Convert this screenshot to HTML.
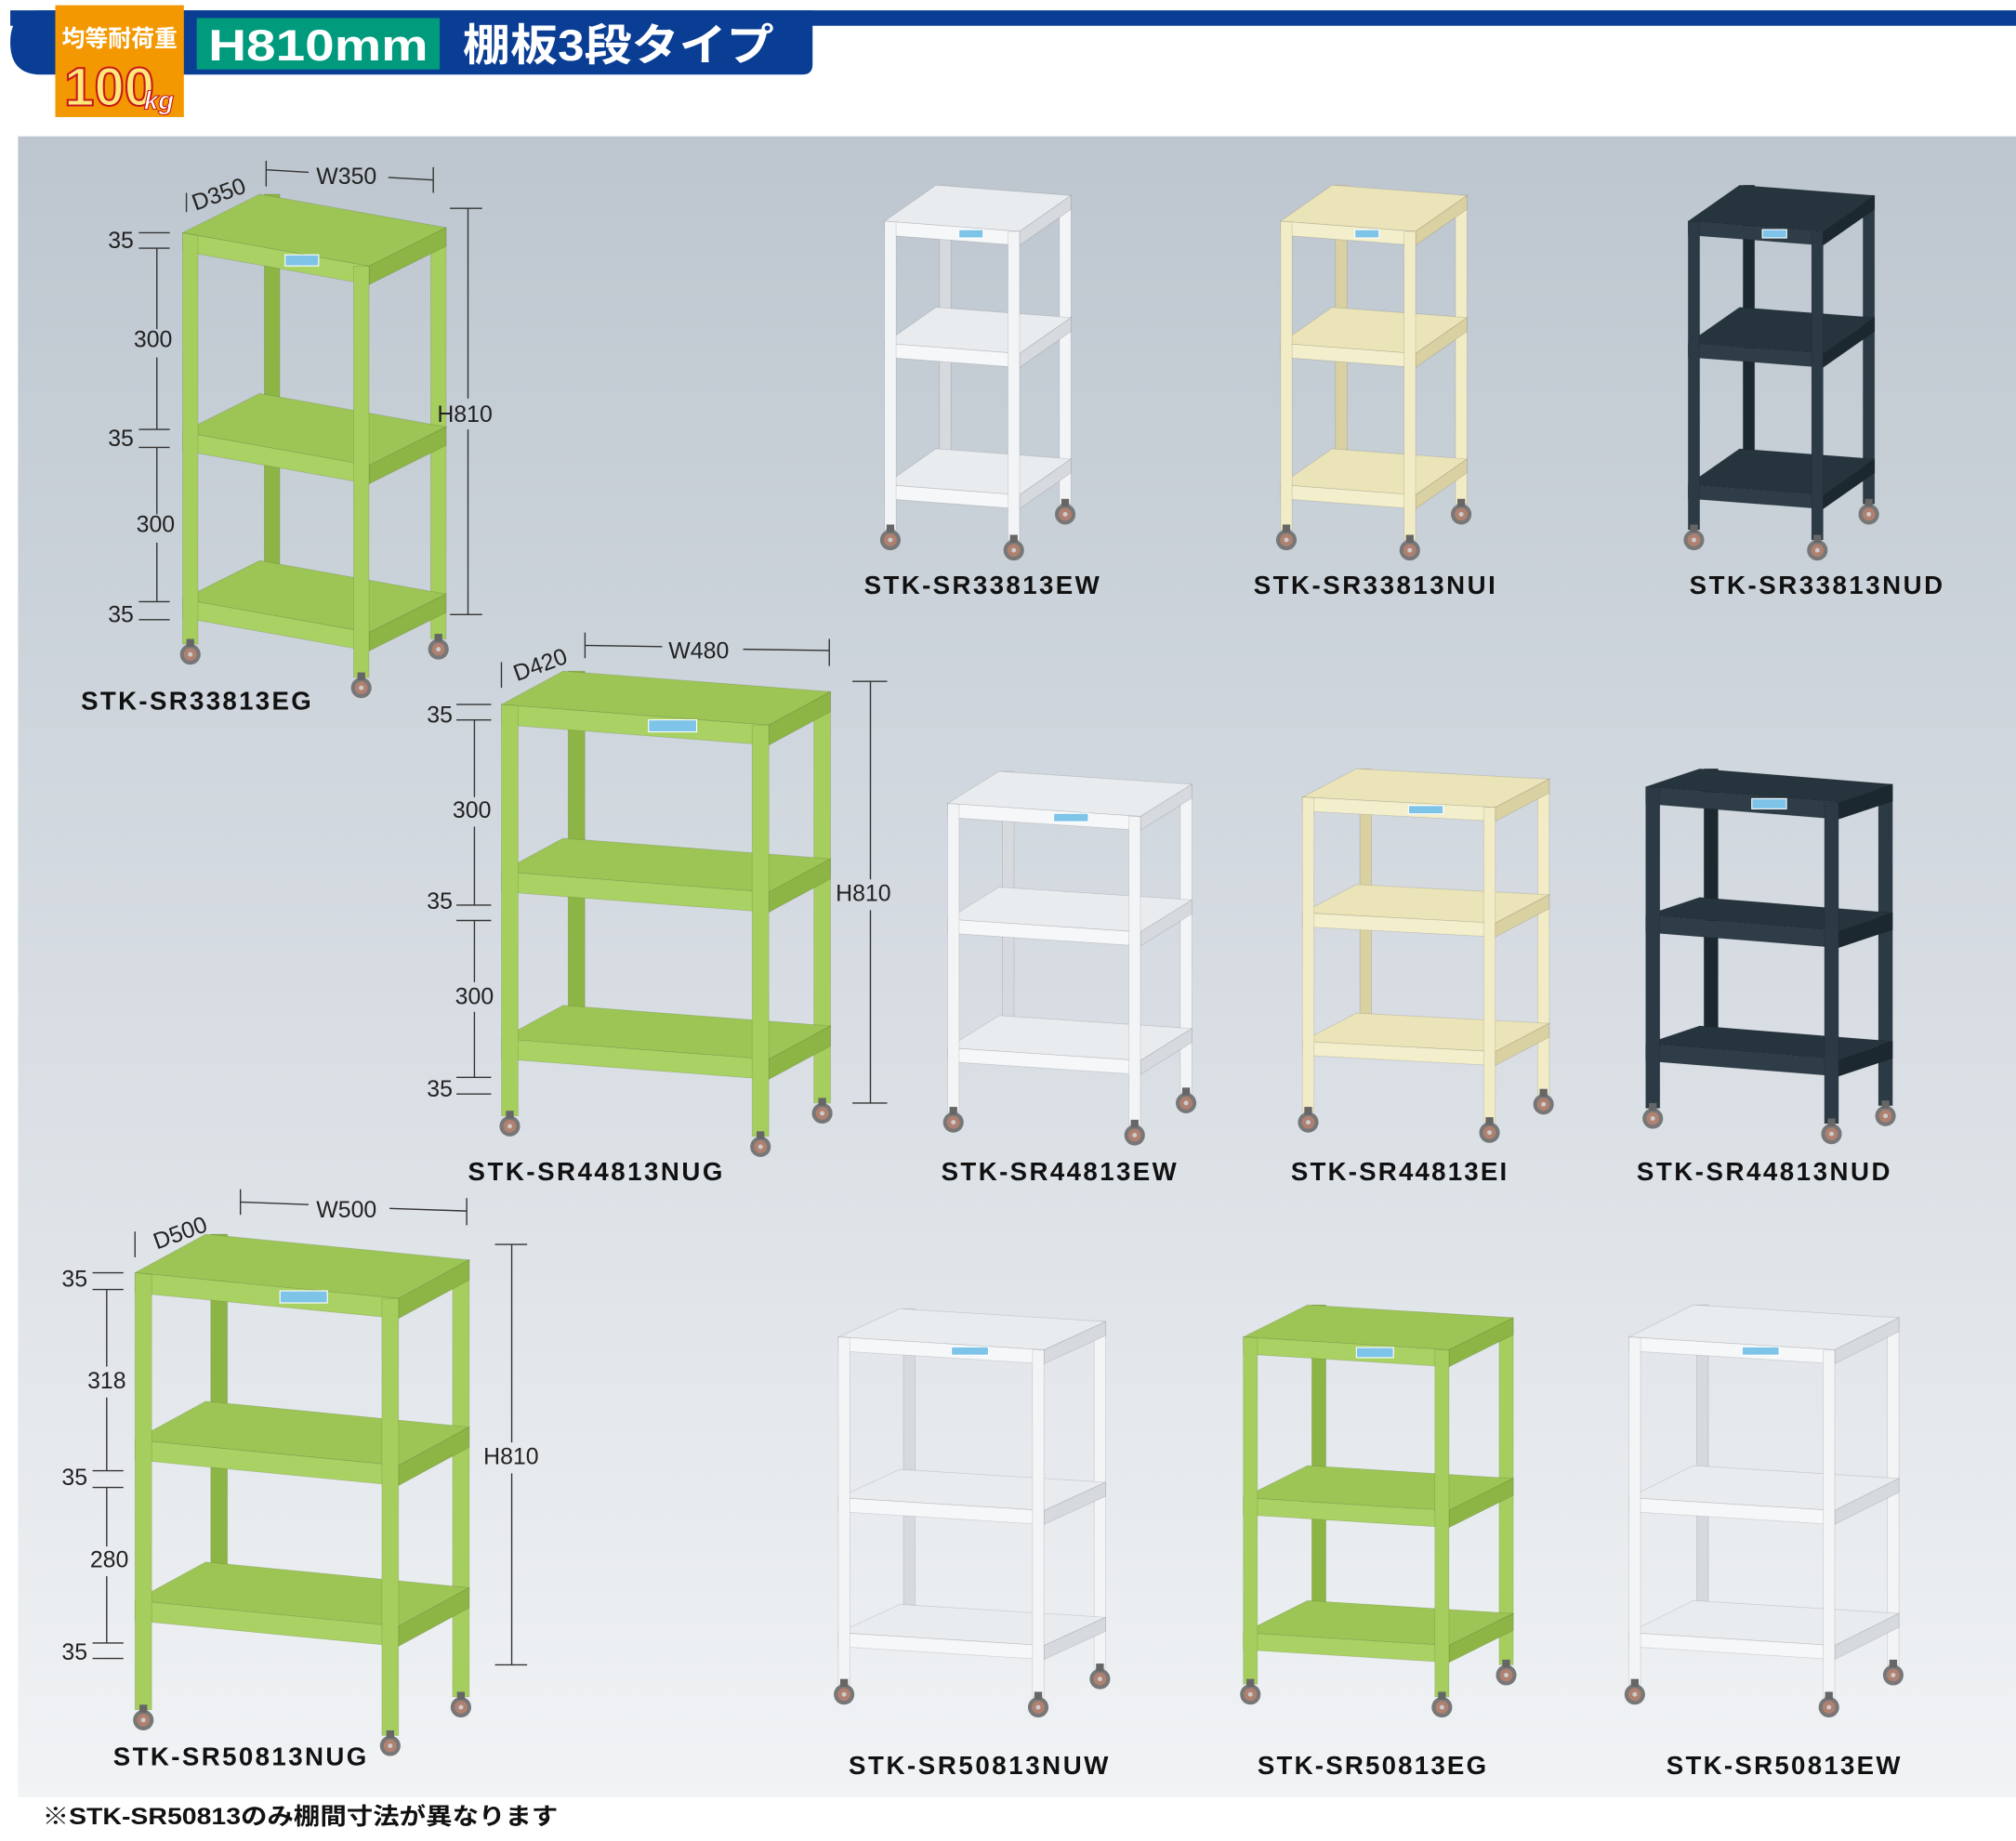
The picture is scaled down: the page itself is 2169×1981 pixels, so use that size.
<!DOCTYPE html>
<html><head><meta charset="utf-8"><style>
html,body{margin:0;padding:0;background:#fff;}
svg{display:block;}
text{font-family:"Liberation Sans","Noto Sans CJK JP",sans-serif;}
</style></head><body>
<svg id="s" xmlns="http://www.w3.org/2000/svg" width="2169" height="1981" viewBox="0 0 1568 1432">
<defs>
<linearGradient id="bg" x1="0" y1="0" x2="0" y2="1">
<stop offset="0" stop-color="#bdc6cf"/><stop offset="0.5" stop-color="#d6dce2"/><stop offset="1" stop-color="#f1f3f5"/>
</linearGradient>
</defs>
<rect x="0" y="0" width="1568" height="1432" fill="#fff"/>
<rect x="14" y="106" width="1554" height="1292" fill="url(#bg)"/>
<!-- header -->
<rect x="8" y="8" width="1560" height="12" fill="#0a3d94"/>
<path d="M32 8 H632 V50 Q632 58 624 58 H32 Q8 58 8 33 Q8 8 32 8 Z" fill="#0a3d94"/>
<rect x="43" y="4" width="100" height="87" fill="#f39800"/>
<text x="93" y="36" text-anchor="middle" font-size="18" font-weight="bold" fill="#fff">均等耐荷重</text>
<text x="50" y="82" font-size="42" font-weight="bold" fill="#ffe97a" stroke="#c8161d" stroke-width="1.5">100</text>
<text x="112" y="85" font-size="20" font-weight="bold" fill="#fff" stroke="#c8161d" stroke-width="0.8" font-style="italic">kg</text>
<rect x="153" y="14" width="189" height="40" fill="#009b7d"/>
<text x="162" y="47" textLength="171" lengthAdjust="spacingAndGlyphs" font-size="34" font-weight="bold" fill="#fff">H810mm</text>
<text x="360" y="47" textLength="242" lengthAdjust="spacingAndGlyphs" font-size="34" font-weight="bold" fill="#fff">棚板3段タイプ</text>
<g id="carts"></g>
<g font-size="18" fill="#222" stroke="none">
<g stroke="#333" stroke-width="1" fill="none">
<path d="M108 181H132M108 193H132M108 334H132M108 348H132M108 468H132M108 482H132M122 193V256M122 278V334M122 348V400M122 422V468"/>
<path d="M350 162H375M350 478H375M364 162V310M364 334V478"/>
<path d="M145 150V165M207 125V145M207 132L240 134M302 138L337 140M337 130V150"/>
<path d="M355 548H382M355 560H382M355 704H382M355 716H382M355 838H382M355 851H382M369 560V620M369 643V704M369 716V764M369 787V838"/>
<path d="M663 530H690M663 858H690M677 530V684M677 708V858"/>
<path d="M390 515V535M455 492V512M455 502L515 503M578 505L645 506M645 497V518"/>
<path d="M72 990H96M72 1003H96M72 1144H96M72 1157H96M72 1278H96M72 1290H96M83 1003V1063M83 1087V1144M83 1157V1203M83 1226V1278"/>
<path d="M385 968H410M385 1295H410M398 968V1122M398 1146V1295"/>
<path d="M105 958V978M187 925V945M187 935L240 937M303 940L363 942M363 932V953"/>
</g>
<text x="84" y="193">35</text><text x="104" y="270">300</text><text x="84" y="347">35</text><text x="106" y="414">300</text><text x="84" y="484">35</text>
<text x="340" y="328">H810</text>
<text x="152" y="164" transform="rotate(-20 152 164)">D350</text>
<text x="246" y="143">W350</text>
<text x="332" y="562">35</text><text x="352" y="636">300</text><text x="332" y="707">35</text><text x="354" y="781">300</text><text x="332" y="853">35</text>
<text x="650" y="701">H810</text>
<text x="402" y="530" transform="rotate(-20 402 530)">D420</text>
<text x="520" y="512">W480</text>
<text x="48" y="1001">35</text><text x="68" y="1080">318</text><text x="48" y="1155">35</text><text x="70" y="1219">280</text><text x="48" y="1291">35</text>
<text x="376" y="1139">H810</text>
<text x="122" y="972" transform="rotate(-20 122 972)">D500</text>
<text x="246" y="947">W500</text>
</g>
<g font-size="20" font-weight="bold" fill="#111" lengthAdjust="spacingAndGlyphs">
<text x="63" y="552" textLength="179">STK-SR33813EG</text>
<text x="672" y="462" textLength="183">STK-SR33813EW</text>
<text x="975" y="462" textLength="188">STK-SR33813NUI</text>
<text x="1314" y="462" textLength="197">STK-SR33813NUD</text>
<text x="364" y="918" textLength="198">STK-SR44813NUG</text>
<text x="732" y="918" textLength="183">STK-SR44813EW</text>
<text x="1004" y="918" textLength="168">STK-SR44813EI</text>
<text x="1273" y="918" textLength="197">STK-SR44813NUD</text>
<text x="88" y="1373" textLength="197">STK-SR50813NUG</text>
<text x="660" y="1380" textLength="202">STK-SR50813NUW</text>
<text x="978" y="1380" textLength="178">STK-SR50813EG</text>
<text x="1296" y="1380" textLength="182">STK-SR50813EW</text>
</g>
<text x="33" y="1419" font-size="18" font-weight="bold" fill="#111" textLength="401" lengthAdjust="spacingAndGlyphs">※STK-SR50813のみ棚間寸法が異なります</text>
</svg>
<script>
var C={
g:{c:"#a9d163",f:"#9cc556",d:"#8db545",p:"#a5ce5e"},
w:{c:"#f6f7f9",f:"#e9ecef",d:"#d6dadf",p:"#f3f4f6"},
i:{c:"#f3eecb",f:"#ebe4b9",d:"#d9d1a2",p:"#f1ebc6"},
n:{c:"#2e3d47",f:"#26343d",d:"#1c2830",p:"#2b3a44"}
};
var carts=[
[142,181,145,26,60,-30,320,[0,155,285],12,"g"],
[688,172,105,8,40,-28,240,[0,95,205],9,"w"],
[996,172,105,8,40,-28,240,[0,95,205],9,"i"],
[1313,172,105,8,40,-28,240,[0,95,205],9,"n"],
[390,548,208,16,48,-26,320,[0,130,260],13,"g"],
[737,625,150,10,40,-25,240,[0,90,190],9,"w"],
[1013,620,150,8,42,-22,245,[0,90,190],9,"i"],
[1280,612,150,12,42,-14,250,[0,100,200],11,"n"],
[105,990,205,20,55,-30,340,[0,130,255],13,"g"],
[652,1040,160,10,48,-22,270,[0,125,230],9,"w"],
[967,1040,160,10,50,-25,270,[0,125,230],11,"g"],
[1267,1040,160,10,50,-25,270,[0,125,230],9,"w"]
];
var out="";
function P(a){return a.map(function(p){return p[0].toFixed(1)+","+p[1].toFixed(1)}).join(" ");}
function poly(a,f){out+='<polygon points="'+P(a)+'" fill="'+f+'" stroke="rgba(0,0,0,0.12)" stroke-width="0.6"/>';}
function caster(x,y){out+='<circle cx="'+x+'" cy="'+y+'" r="8" fill="#777"/><circle cx="'+x+'" cy="'+y+'" r="5" fill="#b08070"/><circle cx="'+x+'" cy="'+y+'" r="1.8" fill="#ccc"/><rect x="'+(x-3)+'" y="'+(y-12)+'" width="6" height="6" fill="#666"/>';}
carts.forEach(function(k){
var x=k[0],y=k[1],wx=k[2],wy=k[3],dx=k[4],dy=k[5],H=k[6],S=k[7],pw=k[8],c=C[k[9]];
var FL=[x,y],FR=[x+wx,y+wy],BL=[x+dx,y+dy],BR=[x+wx+dx,y+wy+dy];
var lip=pw*1.2;
var bh=S[S.length-1]+lip;
poly([[BL[0]+pw*0.3,BL[1]],[BL[0]+pw*1.3,BL[1]],[BL[0]+pw*1.3,BL[1]+bh],[BL[0]+pw*0.3,BL[1]+bh]],c.d);
poly([[BR[0]-pw,BR[1]],[BR[0],BR[1]],[BR[0],BR[1]+H],[BR[0]-pw,BR[1]+H]],c.p);
caster(BR[0]-pw/2,BR[1]+H+8);
S.forEach(function(s){
var a=[FL[0],FL[1]+s],b=[FR[0],FR[1]+s],cc=[BR[0],BR[1]+s],d=[BL[0],BL[1]+s];
poly([a,b,cc,d],c.f);
poly([[a[0],a[1]],[b[0],b[1]],[b[0],b[1]+lip],[a[0],a[1]+lip]],c.c);
poly([[b[0],b[1]],[cc[0],cc[1]],[cc[0],cc[1]+lip],[b[0],b[1]+lip]],c.d);
});
poly([[FL[0],FL[1]],[FL[0]+pw,FL[1]+wy*pw/wx],[FL[0]+pw,FL[1]+H],[FL[0],FL[1]+H]],c.p);
poly([[FR[0]-pw,FR[1]],[FR[0],FR[1]],[FR[0],FR[1]+H],[FR[0]-pw,FR[1]+H]],c.p);
caster(FL[0]+pw/2,FL[1]+H+8);
caster(FR[0]-pw/2,FR[1]+H+8);
var lx=x+wx*0.55,ly=y+wy*0.55+lip*0.2;
out+='<rect x="'+lx+'" y="'+ly+'" width="'+(wx*0.18)+'" height="'+(lip*0.6)+'" fill="#7ec3e8" stroke="#fff" stroke-width="0.8"/>';
});
document.getElementById("carts").innerHTML=out;
</script>
</body></html>
